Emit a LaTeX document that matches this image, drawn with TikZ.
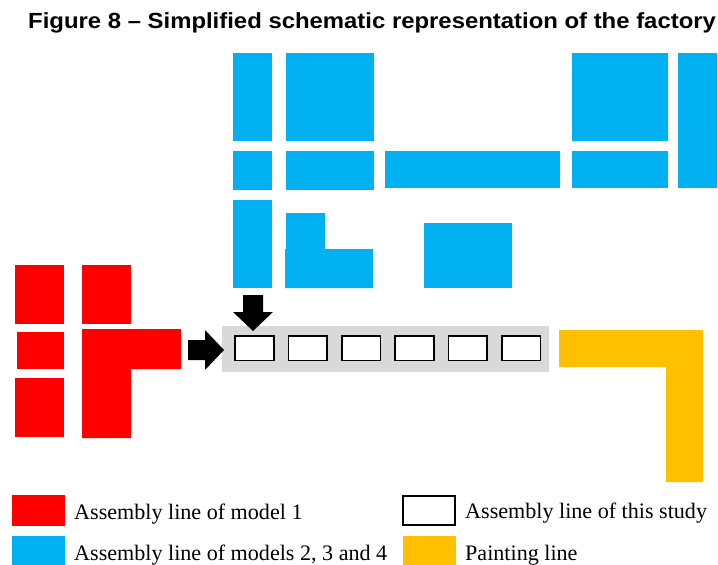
\documentclass[tikz,border=0pt]{standalone}
\usepackage{fontspec}
\setmainfont{Liberation Serif}
\newfontfamily\titlefont{Liberation Sans}
\definecolor{modelone}{HTML}{FF0000}
\definecolor{modelsrest}{HTML}{00B0F0}
\definecolor{painting}{HTML}{FFC000}
\definecolor{linebg}{HTML}{D9D9D9}
\begin{document}
\begin{tikzpicture}[x=1pt,y=-1pt,
  redarea/.style={fill=modelone},
  bluearea/.style={fill=modelsrest},
  yellowarea/.style={fill=painting},
  station/.style={draw=black,line width=1.7pt,fill=white},
  flowarrow/.style={fill=black},
  legendtext/.style={anchor=base west,inner sep=0pt,font=\fontsize{22.1}{26}\selectfont},
]
\useasboundingbox (0,0) rectangle (718,565);

% title
\node[anchor=base west,inner sep=0pt] (title) at (28,28.3)
  {\scalebox{1.091}[1]{\titlefont\bfseries\fontsize{21.9}{26}\selectfont Figure 8 – Simplified schematic representation of the factory}};

% assembly line of model 1
\fill[redarea] (15,265) rectangle (64,324);
\fill[redarea] (82,265) rectangle (131,324);
\fill[redarea] (17,332) rectangle (64,369);
\fill[redarea] (82,329) -- (181,329) -- (181,369) -- (131,369) -- (131,438) -- (82,438) -- cycle;
\fill[redarea] (15,378) rectangle (64,437);

% assembly lines of models 2, 3 and 4
\fill[bluearea] (233,53) rectangle (272,141);
\fill[bluearea] (286,53) rectangle (374,141);
\fill[bluearea] (572,53) rectangle (668,141);
\fill[bluearea] (678,53) rectangle (717,188);
\fill[bluearea] (233,151) rectangle (272,190);
\fill[bluearea] (286,151) rectangle (374,190);
\fill[bluearea] (385,151) rectangle (560,188);
\fill[bluearea] (572,151) rectangle (668,188);
\fill[bluearea] (233,200) rectangle (272,288);
\fill[bluearea] (286,213) -- (325,213) -- (325,249) -- (373,249) -- (373,288) -- (285,288) -- (285,249) -- (286,249) -- cycle;
\fill[bluearea] (424,223) rectangle (512,288);

% painting line
\fill[yellowarea] (559,330) -- (703,330) -- (703,482) -- (666,482) -- (666,367) -- (559,367) -- cycle;

% assembly line of this study
\fill[linebg] (222,326) rectangle (549,372);
\foreach \i in {0,...,5} {
  \draw[station] ({235.2+53.35*\i},336.2) rectangle ({273.8+53.35*\i},360.4);
}

% material flow into the line
\fill[flowarrow] (188,340) -- (205,340) -- (205,330) -- (224,350) -- (205,370) -- (205,360) -- (188,360) -- cycle;
\fill[flowarrow] (243,295) -- (263,295) -- (263,312) -- (273,312) -- (253,331) -- (233,312) -- (243,312) -- cycle;

% legend
\fill[redarea] (12,495) rectangle (65,526);
\node[legendtext] (lgred) at (74,519) {Assembly line of model 1};
\fill[bluearea] (12,536) rectangle (65,565);
\node[legendtext] (lgblue) at (74,560) {Assembly line of models 2, 3 and 4};
\draw[station] (403.15,495.85) rectangle (455.15,524.85);
\node[legendtext] (lgwhite) at (465,518.5) {Assembly line of this study};
\fill[yellowarea] (403,536) rectangle (456,565);
\node[legendtext] (lgyellow) at (465,560) {Painting line};
\end{tikzpicture}
\end{document}
